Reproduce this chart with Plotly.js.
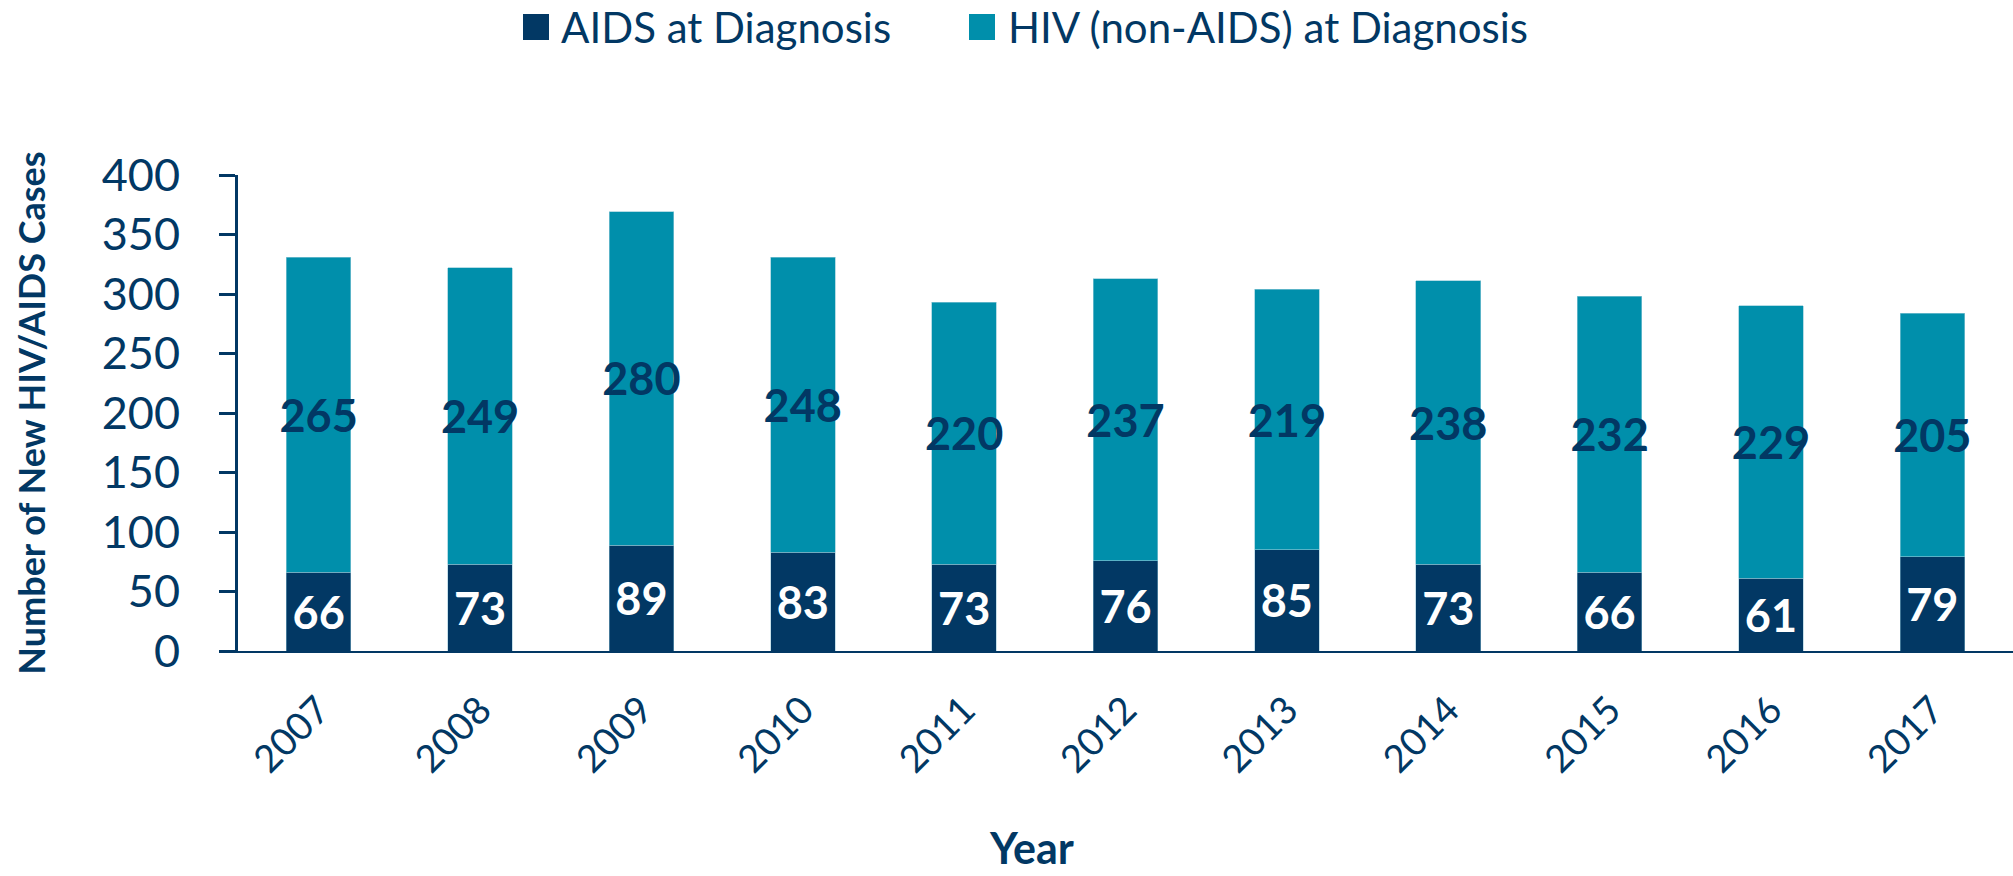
<!DOCTYPE html>
<html>
<head>
<meta charset="utf-8">
<script src="https://cdn.plot.ly/plotly-3.0.1.min.js"></script>
<style>html,body{margin:0;padding:0;background:#fff;}#chart{width:2013px;height:876px;}</style>
</head>
<body>
<div id="chart"></div>
<script>
const years = ['2007','2008','2009','2010','2011','2012','2013','2014','2015','2016','2017'];
const aidsAtDiagnosis = [66, 73, 89, 83, 73, 76, 85, 73, 66, 61, 79];
const hivNonAidsAtDiagnosis = [265, 249, 280, 248, 220, 237, 219, 238, 232, 229, 205];
const seriesNames = ['AIDS at Diagnosis', 'HIV (non-AIDS) at Diagnosis'];
const yTicks = [0, 50, 100, 150, 200, 250, 300, 350, 400];

const NAVY = '#023864';
const TEAL = '#008FAB';
const FONT = 'Lato, "Open Sans", sans-serif';

const L = 238, R = 0, T = 175, B = 225, W = 2013, H = 876;
const PW = W - L - R, PH = H - T - B;
const px = x => (x - L) / PW;
const py = y => (H - B - y) / PH;

const traces = [
  {
    type: 'bar', name: seriesNames[0], x: years, y: aidsAtDiagnosis,
    marker: {color: NAVY, line: {width: 0.8, color: 'rgba(140,190,210,0.6)'}},
    texttemplate: '%{y}', textposition: 'inside', insidetextanchor: 'middle',
    textangle: 0, constraintext: 'none', cliponaxis: false,
    textfont: {family: FONT, size: 45, color: '#ffffff', weight: 'bold'},
    hoverinfo: 'skip'
  },
  {
    type: 'bar', name: seriesNames[1], x: years, y: hivNonAidsAtDiagnosis,
    marker: {color: TEAL, line: {width: 0.8, color: 'rgba(140,200,215,0.8)'}},
    texttemplate: '%{y}', textposition: 'inside', insidetextanchor: 'middle',
    textangle: 0, constraintext: 'none', cliponaxis: false,
    textfont: {family: FONT, size: 45, color: NAVY, weight: 'bold'},
    hoverinfo: 'skip'
  }
];

const layout = {
  width: W, height: H,
  margin: {l: L, r: R, t: T, b: B, pad: 0},
  paper_bgcolor: '#fff', plot_bgcolor: '#fff',
  barmode: 'stack', bargap: 0.6,
  showlegend: false,
  font: {family: FONT, color: NAVY},
  xaxis: {
    type: 'category', showgrid: false, zeroline: false,
    showline: true, linecolor: NAVY, linewidth: 1.5,
    ticks: '', tickangle: -45, ticklabelstandoff: 20,
    tickfont: {family: FONT, size: 38, color: NAVY}
  },
  yaxis: {
    range: [0, 400], tickvals: yTicks, showgrid: false, zeroline: false,
    showline: true, linecolor: NAVY, linewidth: 3,
    ticks: 'outside', ticklen: 16, tickwidth: 3, tickcolor: NAVY,
    ticklabelstandoff: 30,
    tickfont: {family: FONT, size: 45, color: NAVY},
    title: {text: 'Number of New HIV/AIDS Cases', standoff: 46,
            font: {family: FONT, size: 36, color: NAVY, weight: 'bold'}}
  },
  yaxis2: {
    overlaying: 'y', anchor: 'x', side: 'left',
    range: [0, 400], tickvals: yTicks, showgrid: false, zeroline: false,
    showline: false, showticklabels: false,
    ticks: 'inside', ticklen: 16, tickwidth: 3, tickcolor: NAVY
  },
  shapes: [
    {type: 'rect', xref: 'paper', yref: 'paper', x0: px(523), x1: px(549), y0: py(40), y1: py(14),
     fillcolor: NAVY, line: {width: 0}},
    {type: 'rect', xref: 'paper', yref: 'paper', x0: px(969), x1: px(995), y0: py(40), y1: py(14),
     fillcolor: TEAL, line: {width: 0}}
  ],
  annotations: [
    {xref: 'paper', yref: 'paper', x: px(559), y: py(27), xanchor: 'left', yanchor: 'middle',
     text: seriesNames[0], showarrow: false, font: {family: FONT, size: 42, color: NAVY}},
    {xref: 'paper', yref: 'paper', x: px(1006), y: py(27), xanchor: 'left', yanchor: 'middle',
     text: seriesNames[1], showarrow: false, font: {family: FONT, size: 42, color: NAVY}},
    {xref: 'paper', yref: 'paper', x: px(1031), y: py(875), xanchor: 'center', yanchor: 'bottom',
     text: 'Year', showarrow: false, font: {family: FONT, size: 43, color: NAVY, weight: 'bold'}}
  ]
};

Plotly.newPlot('chart', traces, layout, {staticPlot: true, displayModeBar: false});
</script>
</body>
</html>
